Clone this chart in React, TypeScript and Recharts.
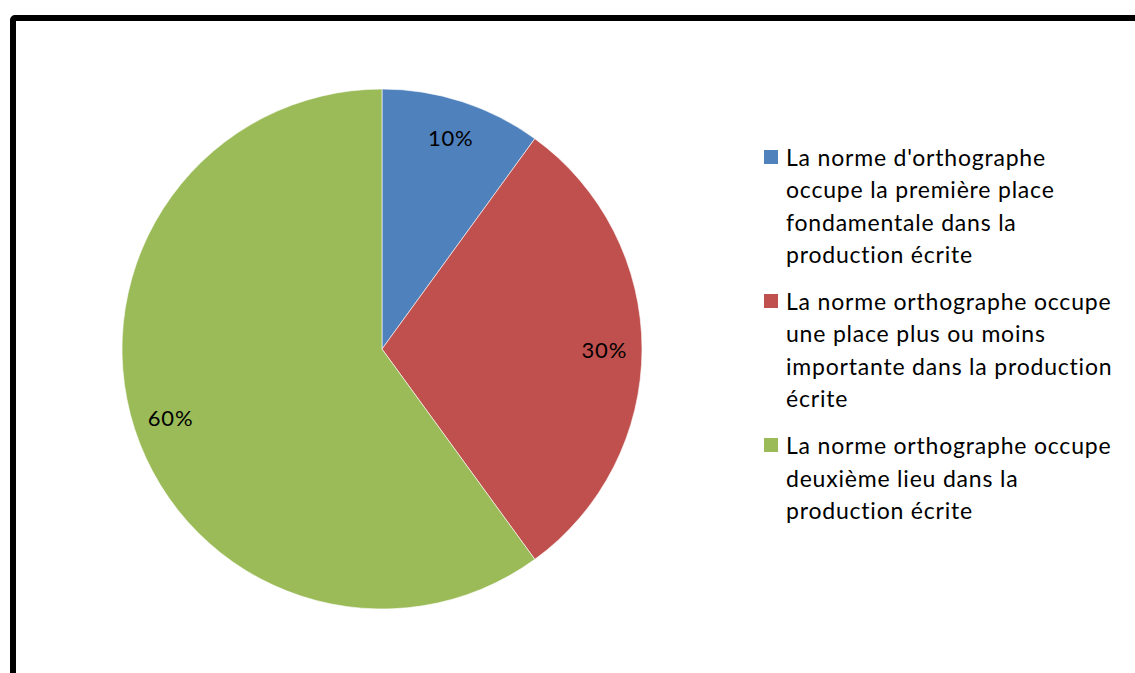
import React from "react";
import { PieChart, Pie, Cell, Legend } from "recharts";

const categories = [
  "La norme d'orthographe\noccupe la première place\nfondamentale dans la\nproduction écrite",
  "La norme orthographe occupe\nune place plus ou moins\nimportante dans la production\nécrite",
  "La norme orthographe occupe\ndeuxième lieu dans la\nproduction écrite",
];
const values = [10, 30, 60];
const colors = ["#4F81BD", "#C0504D", "#9BBB59"];

const data = categories.map((name, i) => ({ name, value: values[i] }));

const FONT = "Lato, 'Open Sans', sans-serif";
const RAD = Math.PI / 180;

const renderLabel = (props: any) => {
  const { cx, cy, midAngle, outerRadius, value } = props;
  const r = outerRadius * 0.855;
  const x = cx + r * Math.cos(-midAngle * RAD);
  const y = cy + r * Math.sin(-midAngle * RAD);
  return (
    <text
      x={x}
      y={y}
      textAnchor="middle"
      dominantBaseline="central"
      fill="#000"
      fontSize={22}
      letterSpacing={0.8}
      fontFamily={FONT}
    >
      {`${value}%`}
    </text>
  );
};

const LegendContent = () => (
  <div style={{ fontFamily: FONT, fontSize: 23, letterSpacing: "0.8px", color: "#000" }}>
    {categories.map((c, i) => (
      <div key={i} style={{ display: "flex", alignItems: "flex-start", marginBottom: 15 }}>
        <div
          style={{
            width: 14,
            height: 14,
            background: colors[i],
            marginTop: 9,
            marginRight: 8,
            flexShrink: 0,
          }}
        />
        <div style={{ whiteSpace: "pre-line", lineHeight: "32.3px" }}>{c}</div>
      </div>
    ))}
  </div>
);

export default function App() {
  return (
    <div
      style={{
        position: "fixed",
        left: 0,
        top: 0,
        width: 1135,
        height: 673,
        overflow: "hidden",
        background: "#fff",
      }}
    >
      <div
        style={{
          position: "absolute",
          left: 10,
          top: 15,
          width: 1200,
          height: 800,
          border: "6px solid #000",
          borderRadius: 5,
          boxSizing: "border-box",
        }}
      />
      <div style={{ position: "absolute", left: 0, top: 0 }}>
        <PieChart width={1135} height={673} margin={{ top: 0, right: 0, bottom: 0, left: 0 }}>
          <Pie
            data={data}
            dataKey="value"
            nameKey="name"
            cx={382}
            cy={349}
            outerRadius={260}
            startAngle={90}
            endAngle={-270}
            stroke="#fff"
            strokeWidth={0.6}
            label={renderLabel}
            labelLine={false}
            isAnimationActive={false}
          >
            {data.map((d, i) => (
              <Cell key={i} fill={colors[i]} />
            ))}
          </Pie>
          <Legend
            content={<LegendContent />}
            wrapperStyle={{ position: "absolute", left: 764, top: 141, width: 371 }}
          />
        </PieChart>
      </div>
    </div>
  );
}
